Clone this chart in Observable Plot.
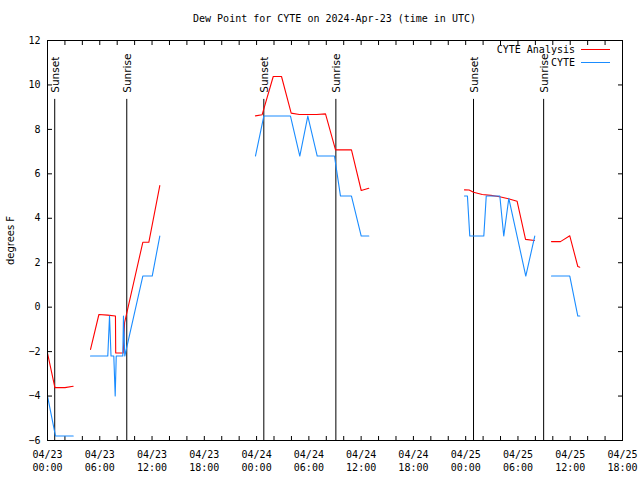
<!DOCTYPE html>
<html><head><meta charset="utf-8">
<script src="https://cdn.jsdelivr.net/npm/d3@7"></script>
<script src="https://cdn.jsdelivr.net/npm/@observablehq/plot@0.6"></script>
<style>
body{margin:0;background:#fff;}
#wrap{position:relative;width:640px;height:480px;overflow:hidden;}
#chart{position:absolute;left:0;top:0;}
#title{position:absolute;left:47px;width:575px;top:13px;text-align:center;font:10px "DejaVu Sans Mono",monospace;color:#000;white-space:pre;}
.leg{position:absolute;font:10px "DejaVu Sans Mono",monospace;color:#000;text-align:right;white-space:pre;line-height:12px;}
.sw{position:absolute;height:1px;}
[aria-label="y-axis label"] text{font-family:"DejaVu Sans",sans-serif;font-size:10px;}
</style>
</head><body>
<div id="wrap"><div id="chart"></div><div id="title"></div></div>
<script>
const titleText = "Dew Point for CYTE on 2024-Apr-23 (time in UTC)";
const yLabel = "degrees F";
const seriesNames = ["CYTE Analysis", "CYTE"];
const seriesColors = ["#ff0000", "#1a8cff"];

// hours since 2024-04-23 00:00 UTC
const xTickHours = [0,2,4,6,8,10,12,14,16,18,20,22,24,26,28,30,32,34,36,38,40,42,44,46,48,50,52,54,56,58,60,62,64,66];
const xLabelHours = [0,6,12,18,24,30,36,42,48,54,60,66];
const xTickLabels = ["04/23\n00:00","04/23\n06:00","04/23\n12:00","04/23\n18:00",
                     "04/24\n00:00","04/24\n06:00","04/24\n12:00","04/24\n18:00",
                     "04/25\n00:00","04/25\n06:00","04/25\n12:00","04/25\n18:00"];
const yTicks = [-6,-4,-2,0,2,4,6,8,10,12];

const sunHours = [0.83, 9.1, 24.83, 33.1, 48.9, 56.95];
const sunLabels = ["Sunset","Sunrise","Sunset","Sunrise","Sunset","Sunrise"];

const analysisTime = [0,0.85,2.0,2.95,null,
  4.94,5.9,6.9,7.8,7.83,8.69,8.85,10.94,11.63,12.89,null,
  23.87,24.64,25.91,26.86,27.97,28.9,29.9,30.9,31.91,33.06,34.89,36.01,36.88,null,
  47.86,48.4,48.9,49.9,50.9,51.9,52.9,53.9,54.87,55.9,null,
  57.85,58.88,59.95,60.87,61.1];
const analysisDew = [-2.07,-3.62,-3.62,-3.56,null,
  -1.9,-0.33,-0.36,-0.4,-2.06,-2.06,-0.7,2.92,2.92,5.47,null,
  8.61,8.66,10.38,10.38,8.73,8.67,8.67,8.67,8.7,7.08,7.08,5.25,5.35,null,
  5.28,5.27,5.17,5.07,5.03,4.97,4.88,4.77,3.05,3.0,null,
  2.95,2.95,3.21,1.83,1.8];

const obsTime = [0,0.92,2.95,null,
  4.94,6.92,7.12,7.29,7.61,7.77,7.89,8.64,8.72,8.87,10.94,12.02,12.89,null,
  23.87,24.83,27.89,28.96,29.88,30.96,32.94,33.63,34.89,36.01,36.88,null,
  47.86,48.2,48.47,50.08,50.36,51.92,52.37,52.95,54.9,55.93,null,
  57.85,59.95,60.87,61.1];
const obsDew = [-4.0,-5.8,-5.8,null,
  -2.2,-2.2,-0.4,-2.2,-2.2,-4.0,-2.2,-2.2,-0.4,-2.2,1.4,1.4,3.2,null,
  6.8,8.6,8.6,6.8,8.6,6.8,6.8,5.0,5.0,3.2,3.2,null,
  5.0,5.0,3.2,3.2,5.0,5.0,3.2,4.9,1.4,3.2,null,
  1.4,1.4,-0.4,-0.4];

const analysis = analysisTime.map((t,i)=>({t, v: analysisDew[i]}));
const obs = obsTime.map((t,i)=>({t, v: obsDew[i]}));

const chart = Plot.plot({
  width: 640, height: 480,
  marginLeft: 47, marginRight: 18, marginTop: 40, marginBottom: 40,
  style: {fontFamily: '"DejaVu Sans Mono", monospace', fontSize: "10px", background: "white", color: "black"},
  x: {domain: [0, 66]},
  y: {domain: [-6, 12]},
  marks: [
    Plot.axisX(xTickHours, {anchor: "bottom", tickSize: -4, tickFormat: () => "", label: null}),
    Plot.axisX(xTickHours, {anchor: "top", tickSize: -4, tickFormat: () => "", label: null}),
    Plot.axisX(xLabelHours, {anchor: "bottom", tickSize: 0, tickPadding: 9, lineHeight: 1.25,
      tickFormat: d => xTickLabels[xLabelHours.indexOf(d)], label: null}),
    Plot.axisY(yTicks, {anchor: "left", tickSize: -5, tickPadding: 12, label: yLabel,
      labelAnchor: "center", labelOffset: 41, labelArrow: false}),
    Plot.axisY(yTicks, {anchor: "right", tickSize: -5, tickFormat: () => "", label: null}),
    Plot.ruleX(sunHours, {x: d => d, y1: 9.35, y2: -6, stroke: "black", strokeWidth: 1}),
    Plot.text(sunHours, {x: d => d, y: 9.65, text: (d, i) => sunLabels[i], rotate: -90,
      textAnchor: "start", dx: 1, fontFamily: "DejaVu Sans", fontSize: 10.5}),
    Plot.line(analysis, {x: "t", y: "v", stroke: seriesColors[0], strokeWidth: 1.1, curve: "linear"}),
    Plot.line(obs, {x: "t", y: "v", stroke: seriesColors[1], strokeWidth: 1.1, curve: "linear"}),
    Plot.frame({stroke: "black"})
  ]
});
document.getElementById("chart").appendChild(chart);
document.getElementById("title").textContent = titleText;

const wrap = document.getElementById("wrap");
const legY = [49, 62];
seriesNames.forEach((name, i) => {
  const t = document.createElement("div");
  t.className = "leg";
  t.textContent = name;
  t.style.right = (640 - 575) + "px";
  t.style.top = (legY[i] - 5) + "px";
  wrap.appendChild(t);
  const s = document.createElement("div");
  s.className = "sw";
  s.style.left = "581px";
  s.style.width = "29px";
  s.style.top = legY[i] + "px";
  s.style.background = seriesColors[i];
  wrap.appendChild(s);
});
</script>
</body></html>
